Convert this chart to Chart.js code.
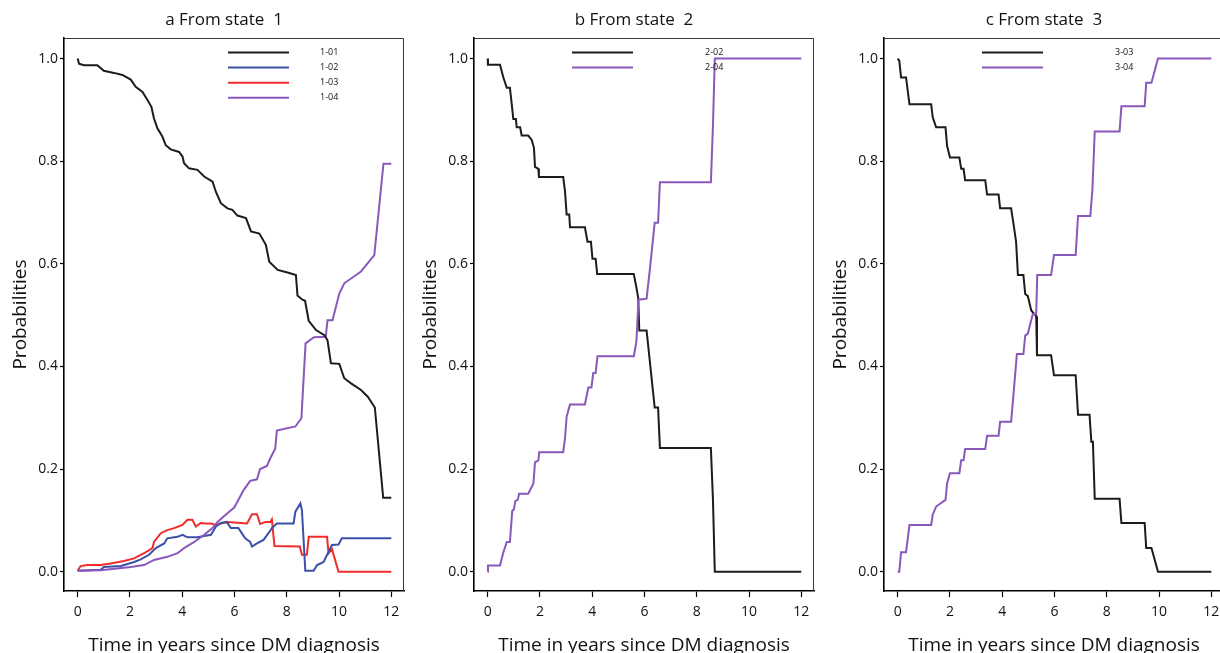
<!DOCTYPE html>
<html>
<head>
<meta charset="utf-8">
<script src="https://cdn.jsdelivr.net/npm/chart.js@4.4.1/dist/chart.umd.min.js"></script>
<style>
  html, body { margin: 0; padding: 0; background: #fff; }
  #wrap { position: relative; width: 1220px; height: 653px; overflow: hidden; }
  #wrap canvas { position: absolute; top: 0; }
</style>
</head>
<body>
<div id="wrap">
  <canvas id="panelA" width="410" height="653" style="left:0"></canvas>
  <canvas id="panelB" width="410" height="653" style="left:410px"></canvas>
  <canvas id="panelC" width="410" height="653" style="left:820px"></canvas>
</div>
<script>
const X_TICKS = [0, 2, 4, 6, 8, 10, 12];
const Y_TICKS = [0, 0.2, 0.4, 0.6, 0.8, 1.0];
const X_TITLE = 'Time in years since DM diagnosis';
const Y_TITLE = 'Probabilities';
const PANEL_TITLES = ['a From state  1', 'b From state  2', 'c From state  3'];

// transition probabilities, [years, probability]
// from state 1
const p1to01 = [[0,1.0],[0.05,0.99],[0.24,0.987],[0.75,0.987],[1.0,0.976],[1.39,0.972],[1.71,0.968],[2.03,0.959],
  [2.22,0.945],[2.48,0.935],[2.67,0.919],[2.82,0.906],[2.92,0.883],[3.05,0.864],[3.24,0.848],[3.37,0.831],
  [3.56,0.823],[3.88,0.818],[4.01,0.809],[4.07,0.796],[4.26,0.786],[4.58,0.783],[4.84,0.770],[5.16,0.760],
  [5.29,0.740],[5.48,0.718],[5.73,0.708],[5.92,0.705],[6.11,0.694],[6.44,0.689],[6.63,0.663],[6.95,0.659],
  [7.2,0.637],[7.33,0.604],[7.65,0.588],[8.03,0.583],[8.35,0.578],[8.41,0.538],[8.6,0.53],[8.7,0.528],
  [8.84,0.489],[9.12,0.471],[9.44,0.461],[9.56,0.451],[9.69,0.406],[10.01,0.405],[10.2,0.377],[10.46,0.367],
  [10.84,0.354],[11.1,0.341],[11.37,0.32],[11.69,0.144],[12.0,0.144]];
const p1to02 = [[0,0.002],[0.88,0.004],[1.0,0.009],[1.65,0.011],[2.16,0.019],[2.41,0.024],[2.73,0.033],[2.99,0.046],
  [3.31,0.055],[3.43,0.065],[3.82,0.068],[4.01,0.072],[4.2,0.067],[4.58,0.067],[5.1,0.072],[5.29,0.088],
  [5.48,0.095],[5.7,0.097],[5.86,0.085],[6.15,0.085],[6.41,0.065],[6.6,0.058],[6.67,0.049],[6.86,0.055],
  [7.11,0.062],[7.3,0.075],[7.43,0.085],[7.62,0.094],[8.26,0.094],[8.33,0.117],[8.52,0.133],[8.58,0.12],
  [8.71,0.002],[9.03,0.002],[9.16,0.013],[9.41,0.019],[9.6,0.039],[9.73,0.052],[9.98,0.053],[10.11,0.065],[12,0.065]];
const p1to03 = [[0,0.002],[0.11,0.011],[0.37,0.013],[0.88,0.013],[1.26,0.016],[1.77,0.021],[2.16,0.026],[2.54,0.036],
  [2.86,0.046],[2.92,0.058],[3.18,0.075],[3.43,0.081],[3.69,0.085],[4.01,0.091],[4.2,0.101],[4.39,0.101],
  [4.52,0.088],[4.71,0.095],[4.9,0.094],[5.1,0.094],[5.29,0.091],[5.48,0.094],[5.73,0.097],[6.48,0.094],
  [6.67,0.112],[6.86,0.112],[6.98,0.093],[7.18,0.097],[7.37,0.097],[7.43,0.102],[7.53,0.05],[8.5,0.049],
  [8.58,0.033],[8.77,0.033],[8.84,0.068],[9.54,0.068],[9.6,0.036],[9.73,0.044],[9.98,0.0],[12,0.0]];
const p1to04 = [[0,0.002],[0.88,0.003],[2.03,0.009],[2.54,0.013],[2.92,0.023],[3.43,0.029],[3.82,0.036],[4.07,0.046],
  [4.46,0.058],[4.84,0.072],[5.16,0.085],[5.35,0.097],[5.73,0.114],[5.99,0.125],[6.35,0.159],[6.6,0.177],
  [6.86,0.18],[6.98,0.2],[7.24,0.206],[7.37,0.221],[7.56,0.24],[7.62,0.275],[8.33,0.283],[8.56,0.299],
  [8.72,0.445],[9.04,0.457],[9.49,0.458],[9.56,0.49],[9.75,0.49],[10.01,0.542],[10.2,0.562],[10.84,0.585],
  [11.35,0.617],[11.7,0.795],[12,0.795]];

// from state 2
const p2to02 = [[0,1.0],[0.01,0.988],[0.47,0.988],[0.6,0.963],[0.73,0.943],[0.85,0.943],[0.92,0.911],[0.98,0.882],
  [1.08,0.882],[1.11,0.866],[1.24,0.866],[1.3,0.85],[1.55,0.85],[1.68,0.842],[1.77,0.826],[1.81,0.789],
  [1.94,0.785],[1.96,0.769],[2.89,0.769],[2.96,0.74],[3.02,0.696],[3.12,0.696],[3.15,0.671],[3.72,0.671],
  [3.82,0.643],[3.95,0.643],[4.01,0.61],[4.13,0.61],[4.19,0.58],[5.59,0.58],[5.69,0.554],[5.76,0.533],
  [5.8,0.47],[6.08,0.47],[6.39,0.32],[6.52,0.32],[6.59,0.241],[8.54,0.241],[8.62,0.14],[8.69,0.0],[12,0.0]];
const p2to04 = [[0,0],[0.01,0.012],[0.47,0.012],[0.6,0.038],[0.73,0.058],[0.85,0.058],[0.94,0.119],[1.0,0.121],
  [1.06,0.138],[1.15,0.14],[1.2,0.152],[1.55,0.152],[1.75,0.172],[1.81,0.213],[1.94,0.217],[1.97,0.233],
  [2.89,0.233],[2.96,0.261],[3.02,0.302],[3.15,0.326],[3.72,0.326],[3.85,0.359],[3.97,0.359],[4.04,0.387],
  [4.13,0.387],[4.2,0.42],[5.59,0.42],[5.69,0.448],[5.77,0.53],[6.08,0.532],[6.2,0.586],[6.39,0.68],
  [6.52,0.68],[6.59,0.759],[8.54,0.759],[8.62,0.87],[8.69,1.0],[12,1.0]];

// from state 3
const p3to03 = [[0,1.0],[0.06,0.996],[0.13,0.963],[0.32,0.963],[0.38,0.939],[0.45,0.911],[1.28,0.911],[1.34,0.886],
  [1.47,0.866],[1.83,0.866],[1.89,0.83],[2.0,0.807],[2.36,0.807],[2.43,0.785],[2.52,0.785],[2.58,0.763],
  [3.35,0.763],[3.42,0.735],[3.86,0.735],[3.92,0.708],[4.34,0.708],[4.44,0.675],[4.53,0.643],[4.6,0.578],
  [4.81,0.578],[4.88,0.541],[4.98,0.537],[5.11,0.509],[5.3,0.498],[5.33,0.422],[5.87,0.422],[5.98,0.383],
  [6.81,0.383],[6.9,0.306],[7.34,0.306],[7.41,0.253],[7.47,0.253],[7.54,0.142],[8.49,0.142],[8.56,0.095],
  [9.45,0.095],[9.51,0.046],[9.71,0.046],[9.96,0.0],[12,0.0]];
const p3to04 = [[0,0],[0.06,0.0],[0.13,0.038],[0.32,0.038],[0.45,0.091],[1.28,0.091],[1.34,0.111],[1.47,0.127],
  [1.83,0.14],[1.89,0.172],[2.0,0.192],[2.36,0.192],[2.43,0.217],[2.52,0.217],[2.58,0.239],[3.35,0.239],
  [3.42,0.265],[3.86,0.265],[3.92,0.292],[4.34,0.292],[4.44,0.351],[4.56,0.424],[4.81,0.424],[4.88,0.46],
  [4.98,0.464],[5.17,0.502],[5.3,0.502],[5.34,0.578],[5.87,0.578],[5.98,0.617],[6.81,0.617],[6.9,0.693],
  [7.37,0.693],[7.45,0.744],[7.54,0.858],[8.49,0.858],[8.56,0.907],[9.45,0.907],[9.51,0.953],[9.71,0.953],
  [9.96,1.0],[12,1.0]];

const FONT   = '"Open Sans", sans-serif';
const BLACK  = '#1c1c1c';
const BLUE   = '#3c50a8';
const RED    = '#f22b2b';
const PURPLE = '#8a57bc';

// top/right edges of the plot box (left/bottom come from the axis borders)
const framePlugin = {
  id: 'frame',
  beforeDatasetsDraw(chart) {
    const { ctx, chartArea: a } = chart;
    ctx.save();
    ctx.strokeStyle = '#3a3a3a';
    ctx.lineWidth = 1;
    ctx.beginPath();
    ctx.moveTo(a.left, a.top + 0.5);
    ctx.lineTo(a.right - 0.5, a.top + 0.5);
    ctx.lineTo(a.right - 0.5, a.bottom);
    ctx.stroke();
    ctx.restore();
  }
};

// panel heading + the small line legend inside the box
const panelPlugin = {
  id: 'panel',
  afterDraw(chart, args, opts) {
    const { ctx, chartArea: a } = chart;
    ctx.save();
    ctx.fillStyle = '#111';
    ctx.font = '17px ' + FONT;
    ctx.textAlign = 'center';
    ctx.textBaseline = 'middle';
    ctx.fillText(opts.title, a.left + 160, 20);

    ctx.font = '9px ' + FONT;
    ctx.textAlign = 'left';
    chart.data.datasets.forEach((ds, i) => {
      const y = a.top + 14.5 + i * 15.1;
      ctx.strokeStyle = ds.borderColor;
      ctx.lineWidth = 2;
      ctx.beginPath();
      ctx.moveTo(a.left + opts.lineX, y);
      ctx.lineTo(a.left + opts.lineX + 61, y);
      ctx.stroke();
      ctx.fillText(ds.label, a.left + opts.textX, y);
    });
    ctx.restore();
  }
};

function series(label, pts, color, order) {
  return {
    label,
    data: pts.map(([t, p]) => ({ x: t, y: p })),
    borderColor: color,
    borderWidth: 2,
    pointRadius: 0,
    tension: 0,
    fill: false,
    order
  };
}

function makePanel(id, title, datasets, lineX, textX) {
  const ctx = document.getElementById(id).getContext('2d');
  return new Chart(ctx, {
    type: 'line',
    data: { datasets },
    plugins: [framePlugin, panelPlugin],
    options: {
      responsive: false,
      animation: false,
      layout: { padding: { top: 38, right: 6, left: 0, bottom: 0 } },
      plugins: {
        legend: { display: false },
        tooltip: { enabled: false },
        panel: { title, lineX, textX }
      },
      scales: {
        x: {
          type: 'linear',
          min: -0.524,
          max: 12.486,
          afterBuildTicks: s => { s.ticks = X_TICKS.map(v => ({ value: v })); },
          afterFit: s => { s.height = 62; },
          border: { display: true, color: '#000', width: 1.6 },
          grid: { drawOnChartArea: false, drawTicks: true, tickLength: 6, tickColor: '#000', tickWidth: 1.2 },
          ticks: { color: '#111', font: { family: FONT, size: 14 }, padding: 7, maxRotation: 0, autoSkip: false },
          title: { display: true, text: X_TITLE, color: '#111', font: { family: FONT, size: 19, lineHeight: 0.75 }, padding: 0 }
        },
        y: {
          type: 'linear',
          min: -0.0376,
          max: 1.04,
          afterBuildTicks: s => { s.ticks = Y_TICKS.map(v => ({ value: v })); },
          afterFit: s => { s.width = 64; },
          border: { display: true, color: '#000', width: 1.6 },
          grid: { drawOnChartArea: false, drawTicks: true, tickLength: 4, tickColor: '#000', tickWidth: 1.2 },
          ticks: { color: '#111', font: { family: FONT, size: 14 }, padding: 2, callback: v => v.toFixed(1) },
          title: { display: true, text: Y_TITLE, color: '#111', font: { family: FONT, size: 19, lineHeight: 1.2 }, padding: { top: 9, bottom: 0 } }
        }
      }
    }
  });
}

makePanel('panelA', PANEL_TITLES[0], [
  series('1-01', p1to01, BLACK, 1),
  series('1-02', p1to02, BLUE, 3),
  series('1-03', p1to03, RED, 4),
  series('1-04', p1to04, PURPLE, 2)
], 164, 256);

makePanel('panelB', PANEL_TITLES[1], [
  series('2-02', p2to02, BLACK, 2),
  series('2-04', p2to04, PURPLE, 1)
], 98, 231);

makePanel('panelC', PANEL_TITLES[2], [
  series('3-03', p3to03, BLACK, 2),
  series('3-04', p3to04, PURPLE, 1)
], 98, 231);
</script>
</body>
</html>
